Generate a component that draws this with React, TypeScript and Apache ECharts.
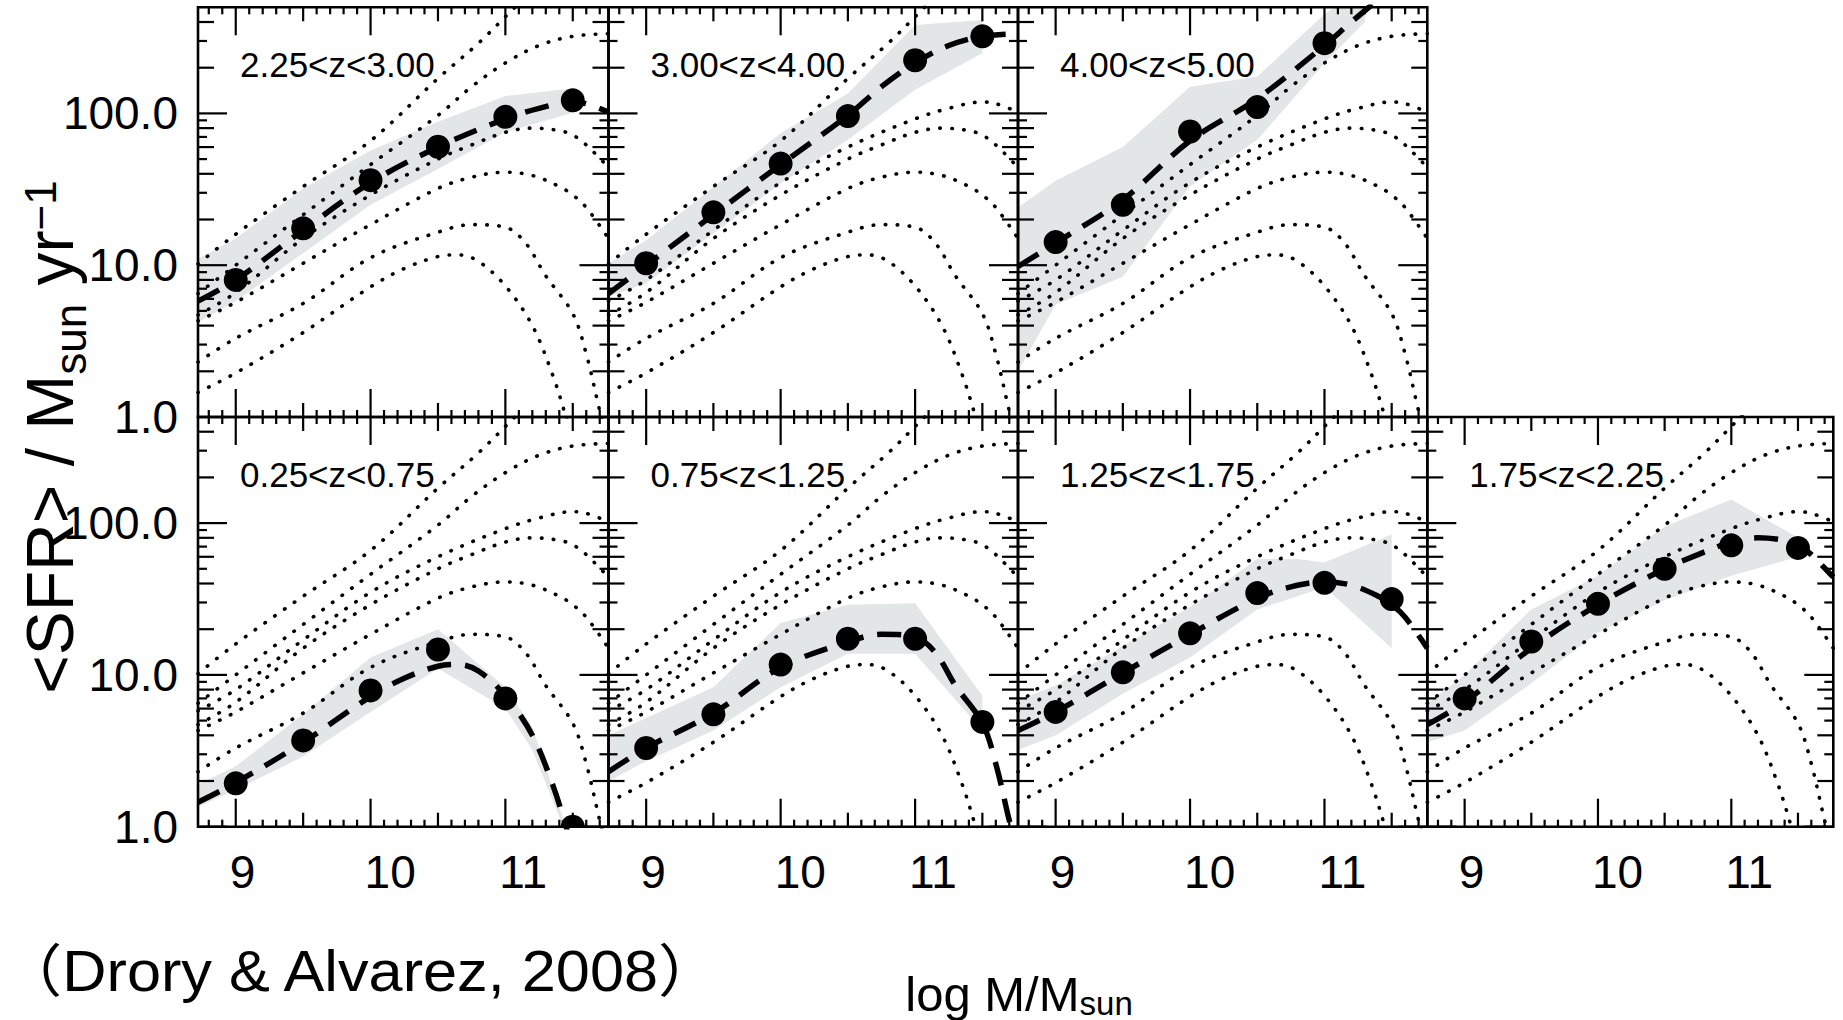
import React, { useEffect, useRef } from 'react';
import * as echarts from 'echarts';

const FONT = '"Liberation Sans", Arial, Helvetica, sans-serif';

// ---- axes ----
const X_MIN = 8.72;
const X_MAX = 11.765;
const Y_MIN = 1;
const Y_MAX = 500;
const X_LABELS = [9, 10, 11];
const Y_LABELS = [1, 10, 100];
const X_TICKS_MAJOR = [9, 10, 11];
const X_TICKS_MID = [9.5, 10.5, 11.5];
const X_TICKS_MINOR = [8.8, 8.9, 9.1, 9.2, 9.3, 9.4, 9.6, 9.7, 9.8, 9.9, 10.1, 10.2, 10.3, 10.4, 10.6, 10.7, 10.8, 10.9, 11.1, 11.2, 11.3, 11.4, 11.6, 11.7];
const Y_TICKS_MAJOR = [1, 10, 100];
const Y_TICKS_MID = [2, 4, 6, 8, 20, 40, 60, 80, 200, 400];
const Y_TICKS_MINOR = [3, 5, 7, 9, 30, 50, 70, 90, 300];

// ---- redshift bins ----
const BIN_LABELS = ['0.25<z<0.75', '0.75<z<1.25', '1.25<z<1.75', '1.75<z<2.25', '2.25<z<3.00', '3.00<z<4.00', '4.00<z<5.00'];
const PANEL_ROW = [1, 1, 1, 1, 0, 0, 0];
const PANEL_COL = [0, 1, 2, 3, 0, 1, 2];

// ---- measured mean SFR (points) at log M ----
const POINT_MASS = [9, 9.5, 10, 10.5, 11, 11.5];
const SFR_0 = [1.93, 3.7, 7.9, 14.7, 7.0, 1.0];
const SFR_1 = [3.3, 5.5, 11.7, 17.3, 17.3, 4.9];
const SFR_2 = [5.7, 10.4, 18.8, 34.6, 40.4, 31.6];
const SFR_3 = [7.0, 16.6, 29.4, 50, 71.4, 68.6];
const SFR_4 = [8.0, 17.5, 36.3, 60.3, 95, 122];
const SFR_5 = [10.3, 22.3, 46.7, 96, 224, 322];
const SFR_6 = [14.2, 25, 76, 110, 290];

// ---- fitted curve of each bin (dashed in its own panel) ----
const FIT_X_0 = [8.72, 9.0, 9.5, 10.0, 10.25, 10.5, 10.65, 10.8, 11.0, 11.2, 11.35, 11.45, 11.55];
const FIT_Y_0 = [1.45, 1.95, 3.6, 7.2, 9.5, 11.4, 11.7, 10.6, 7.3, 4.0, 1.9, 1.0, 0.5];
const FIT_X_1 = [8.72, 9.0, 9.5, 10.0, 10.5, 10.75, 11.0, 11.15, 11.3, 11.5, 11.6, 11.7, 11.8];
const FIT_Y_1 = [2.3, 3.3, 5.6, 11.2, 16.5, 18.5, 17.8, 14, 8.5, 4.8, 2.6, 1.1, 0.5];
const FIT_X_2 = [8.72, 9.0, 9.5, 10.0, 10.5, 10.75, 11.0, 11.2, 11.4, 11.5, 11.6, 11.765];
const FIT_Y_2 = [4.3, 5.7, 10.3, 18.5, 32, 38, 41, 39, 33, 29, 24, 15];
const FIT_X_3 = [8.72, 9.0, 9.5, 10.0, 10.5, 10.75, 11.0, 11.2, 11.4, 11.5, 11.6, 11.765];
const FIT_Y_3 = [4.7, 6.6, 15, 29, 50, 62, 75, 80, 77, 72, 62, 44];
const FIT_X_4 = [8.72, 9.0, 9.5, 10.0, 10.5, 11.0, 11.25, 11.5, 11.6, 11.765];
const FIT_Y_4 = [5.8, 8.0, 17, 35, 60, 92, 108, 119, 116, 102];
const FIT_X_5 = [8.72, 9.0, 9.5, 10.0, 10.5, 10.75, 11.0, 11.25, 11.5, 11.765];
const FIT_Y_5 = [6.5, 10, 21.5, 46, 97, 150, 215, 280, 322, 335];
const FIT_X_6 = [8.72, 9.0, 9.5, 10.0, 10.5, 11.0, 11.2, 11.4, 11.6];
const FIT_Y_6 = [9.8, 14, 27, 66, 125, 280, 400, 560, 750];

// ---- reference curves of the other bins (dotted) ----
const DOT_X_6 = [8.72, 9.0, 9.5, 10.0, 10.5, 10.8, 11.05, 11.2];
const DOT_Y_6 = [10.2, 16, 33, 66, 170, 290, 480, 650];

// ---- uncertainty bands ----
const BAND_X_0 = [8.72, 9.0, 9.5, 10.0, 10.5, 11.0, 11.2, 11.45];
const BAND_LO_0 = [1.35, 1.75, 2.9, 5.7, 11.0, 6.0, 3.2, 0.9];
const BAND_HI_0 = [1.9, 2.5, 5.5, 13.0, 20.0, 8.3, 4.5, 1.0];
const BAND_X_1 = [8.72, 9.0, 9.5, 10.0, 10.5, 11.0, 11.5];
const BAND_LO_1 = [2.0, 2.7, 4.3, 8.3, 13.8, 13.8, 4.3];
const BAND_HI_1 = [4.0, 5.2, 8.3, 22, 29, 29.6, 7.3];
const BAND_X_2 = [8.72, 9.0, 9.5, 10.0, 10.5, 10.8, 11.0, 11.5];
const BAND_LO_2 = [3.2, 4.0, 7.5, 13, 27, 33, 38, 15];
const BAND_HI_2 = [6.8, 8.5, 15.5, 28, 58, 58, 55, 84];
const BAND_X_3 = [8.72, 9.0, 9.5, 10.0, 10.5, 11.0, 11.5];
const BAND_LO_3 = [3.6, 4.3, 8.8, 19, 31, 45, 60];
const BAND_HI_3 = [6.5, 10, 27, 45, 95, 143, 80];
const BAND_X_4 = [8.72, 9.0, 9.5, 10.0, 10.5, 11.0, 11.52];
const BAND_LO_4 = [4.2, 5.8, 12, 25, 43, 75, 102];
const BAND_HI_4 = [11, 15, 32, 57, 88, 130, 147];
const BAND_X_5 = [8.72, 9.0, 9.5, 10.0, 10.5, 11.0, 11.5];
const BAND_LO_5 = [6.2, 7.6, 16.2, 34.5, 67, 143, 249];
const BAND_HI_5 = [10.3, 14.6, 32.8, 74, 135, 382, 412];
const BAND_X_6 = [8.72, 9.0, 9.5, 10.0, 10.5, 11.0, 11.3];
const BAND_LO_6 = [2.0, 5.5, 8.4, 33, 67, 215, 400];
const BAND_HI_6 = [24, 36, 60, 150, 175, 450, 700];

const SFR = [SFR_0, SFR_1, SFR_2, SFR_3, SFR_4, SFR_5, SFR_6];
const FIT_X = [FIT_X_0, FIT_X_1, FIT_X_2, FIT_X_3, FIT_X_4, FIT_X_5, FIT_X_6];
const FIT_Y = [FIT_Y_0, FIT_Y_1, FIT_Y_2, FIT_Y_3, FIT_Y_4, FIT_Y_5, FIT_Y_6];
const DOT_X = [FIT_X_0, FIT_X_1, FIT_X_2, FIT_X_3, FIT_X_4, FIT_X_5, DOT_X_6];
const DOT_Y = [FIT_Y_0, FIT_Y_1, FIT_Y_2, FIT_Y_3, FIT_Y_4, FIT_Y_5, DOT_Y_6];
const BAND_X = [BAND_X_0, BAND_X_1, BAND_X_2, BAND_X_3, BAND_X_4, BAND_X_5, BAND_X_6];
const BAND_LO = [BAND_LO_0, BAND_LO_1, BAND_LO_2, BAND_LO_3, BAND_LO_4, BAND_LO_5, BAND_LO_6];
const BAND_HI = [BAND_HI_0, BAND_HI_1, BAND_HI_2, BAND_HI_3, BAND_HI_4, BAND_HI_5, BAND_HI_6];

// ---- layout (pixels) ----
const COL_LEFT = [198, 608.5, 1018, 1427.3];
const COL_W = [410.5, 409.5, 409.3, 406];
const ROW_TOP = [7.3, 417];
const ROW_H = [409.7, 409.7];

function txt(x: number, y: number, text: string, size: number, extra: any = {}) {
  return {
    type: 'text', x, y, silent: true,
    style: { text, fontSize: size, fontFamily: FONT, fill: '#000', align: 'left', verticalAlign: 'middle', ...extra },
  };
}

function buildOption() {
  const grid: any[] = [];
  const xAxis: any[] = [];
  const yAxis: any[] = [];
  const series: any[] = [];
  const graphic: any[] = [];

  for (let i = 0; i < 7; i++) {
    const r = PANEL_ROW[i];
    const c = PANEL_COL[i];
    const left = COL_LEFT[c];
    const top = ROW_TOP[r];
    grid.push({ left, top, width: COL_W[c], height: ROW_H[r], show: false, containLabel: false });
    xAxis.push({
      gridIndex: i, type: 'value', min: X_MIN, max: X_MAX,
      axisLine: { show: false }, axisTick: { show: false }, splitLine: { show: false },
      axisLabel: {
        show: r === 1, customValues: X_LABELS, margin: 22, align: 'left', padding: [0, 0, 0, -6],
        formatter: (v: number) => (Math.abs(v - Math.round(v)) < 1e-6 && v >= 9 ? String(Math.round(v)) : ''),
        color: '#000', fontSize: 46, fontFamily: FONT,
      },
    });
    yAxis.push({
      gridIndex: i, type: 'log', logBase: 10, min: Y_MIN, max: Y_MAX,
      axisLine: { show: false }, axisTick: { show: false }, splitLine: { show: false },
      axisLabel: {
        show: c === 0, customValues: Y_LABELS, margin: 20,
        formatter: (v: number) => Number(v).toFixed(1),
        color: '#000', fontSize: 46, fontFamily: FONT,
      },
    });

    const bx = BAND_X[i], blo = BAND_LO[i], bhi = BAND_HI[i];
    series.push({
      type: 'custom', xAxisIndex: i, yAxisIndex: i, clip: true, silent: true, z: 1,
      data: bx.map((x, k) => [x, blo[k], bhi[k]]),
      encode: { x: 0, y: [1, 2] },
      renderItem: (params: any, api: any) => {
        if (params.dataIndex !== 0) return null;
        const up = bx.map((x, k) => api.coord([x, bhi[k]]));
        const dn = bx.map((x, k) => api.coord([x, blo[k]])).reverse();
        return { type: 'polygon', shape: { points: up.concat(dn) }, style: { fill: '#e3e6e6' } };
      },
    });

    for (let j = 0; j < 7; j++) {
      if (j === i) continue;
      series.push({
        type: 'line', xAxisIndex: i, yAxisIndex: i, z: 2, silent: true,
        data: DOT_X[j].map((x, k) => [x, DOT_Y[j][k]]),
        smooth: 0.35, showSymbol: false, clip: true,
        lineStyle: { color: '#000', width: 3.6, type: [0.5, 11.5], cap: 'round' },
      });
    }
    series.push({
      type: 'line', xAxisIndex: i, yAxisIndex: i, z: 3, silent: true,
      data: FIT_X[i].map((x, k) => [x, FIT_Y[i][k]]),
      smooth: 0.35, showSymbol: false, clip: true,
      lineStyle: { color: '#000', width: 5.5, type: [24, 14] },
    });
    series.push({
      type: 'custom', xAxisIndex: i, yAxisIndex: i, clip: true, silent: true, z: 4,
      data: SFR[i].map((s, k) => [POINT_MASS[k], s]),
      encode: { x: 0, y: 1 },
      renderItem: (params: any, api: any) => {
        const p = api.coord([api.value(0), api.value(1)]);
        return { type: 'circle', shape: { cx: p[0], cy: p[1], r: 12 }, style: { fill: '#000' } };
      },
    });
    series.push({
      type: 'custom', xAxisIndex: i, yAxisIndex: i, clip: false, silent: true, z: 6,
      data: [[X_MIN, Y_MIN]],
      encode: { x: 0, y: 1 },
      renderItem: (params: any, api: any) => {
        const cs = params.coordSys;
        const x0 = cs.x, y0 = cs.y, x1 = cs.x + cs.width, y1 = cs.y + cs.height;
        const ch: any[] = [];
        const st = { stroke: '#000', lineWidth: 2.2 };
        const add = (a: number, b: number, cc: number, d: number) =>
          ch.push({ type: 'line', shape: { x1: a, y1: b, x2: cc, y2: d }, style: st });
        const xt = (list: number[], len: number) => list.forEach((v) => {
          const px = api.coord([v, Y_MIN])[0];
          add(px, y1, px, y1 - len);
          add(px, y0, px, y0 + len);
        });
        const yt = (list: number[], len: number) => list.forEach((v) => {
          const py = api.coord([X_MIN, v])[1];
          add(x0, py, x0 + len, py);
          add(x1, py, x1 - len, py);
        });
        xt(X_TICKS_MAJOR, 28); xt(X_TICKS_MID, 14); xt(X_TICKS_MINOR, 7);
        yt(Y_TICKS_MAJOR, 29); yt(Y_TICKS_MID, 16); yt(Y_TICKS_MINOR, 9);
        ch.push({ type: 'rect', shape: { x: x0, y: y0, width: cs.width, height: cs.height }, style: { fill: 'none', stroke: '#000', lineWidth: 2.6 } });
        return { type: 'group', children: ch };
      },
    });

    graphic.push(txt(left + 42, top + 57, BIN_LABELS[i], 35));
  }

  // y-axis title, rotated; pieces laid out along the text direction
  const F = 66, f = 44;
  const wMain = 4.835 * F, wSub = 1.612 * f, wYr = 1.111 * F;
  const wSup = 1.14 * f;
  const L = wMain + wSub + wYr + wSup;
  const s0 = -L / 2;
  graphic.push({
    type: 'group', x: 50, y: 437, rotation: Math.PI / 2, silent: true,
    children: [
      txt(s0, 0, '<SFR> / M', F),
      txt(s0 + wMain, 20, 'sun', f),
      txt(s0 + wMain + wSub, 0, ' yr', F),
      txt(s0 + wMain + wSub + wYr, -10, '\u22121', f),
    ],
  });

  // x-axis title
  const G = 49, g = 33;
  const wa = 3.556 * G, wb = 1.612 * g;
  const t0 = 1019 - (wa + wb) / 2;
  graphic.push(txt(t0, 994, 'log M/M', G));
  graphic.push(txt(t0 + wa, 1003, 'sun', g));

  // citation
  graphic.push({
    type: 'text', x: 1, y: 971, scaleX: 1.075, silent: true,
    style: {
      text: '\uff08Drory & Alvarez, 2008\uff09',
      fontSize: 57, fontFamily: '"Liberation Sans", Arial, "Noto Sans CJK JP", sans-serif',
      fill: '#000', align: 'left', verticalAlign: 'middle',
    },
  });

  return { animation: false, backgroundColor: '#fff', grid, xAxis, yAxis, series, graphic };
}

export default function App() {
  const ref = useRef<HTMLDivElement>(null);
  useEffect(() => {
    const chart = echarts.init(ref.current as HTMLDivElement, null, { renderer: 'svg' });
    chart.setOption(buildOption() as any);
    return () => chart.dispose();
  }, []);
  return <div ref={ref} style={{ position: 'fixed', left: 0, top: 0, width: 1843, height: 1020, background: '#fff' }} />;
}
